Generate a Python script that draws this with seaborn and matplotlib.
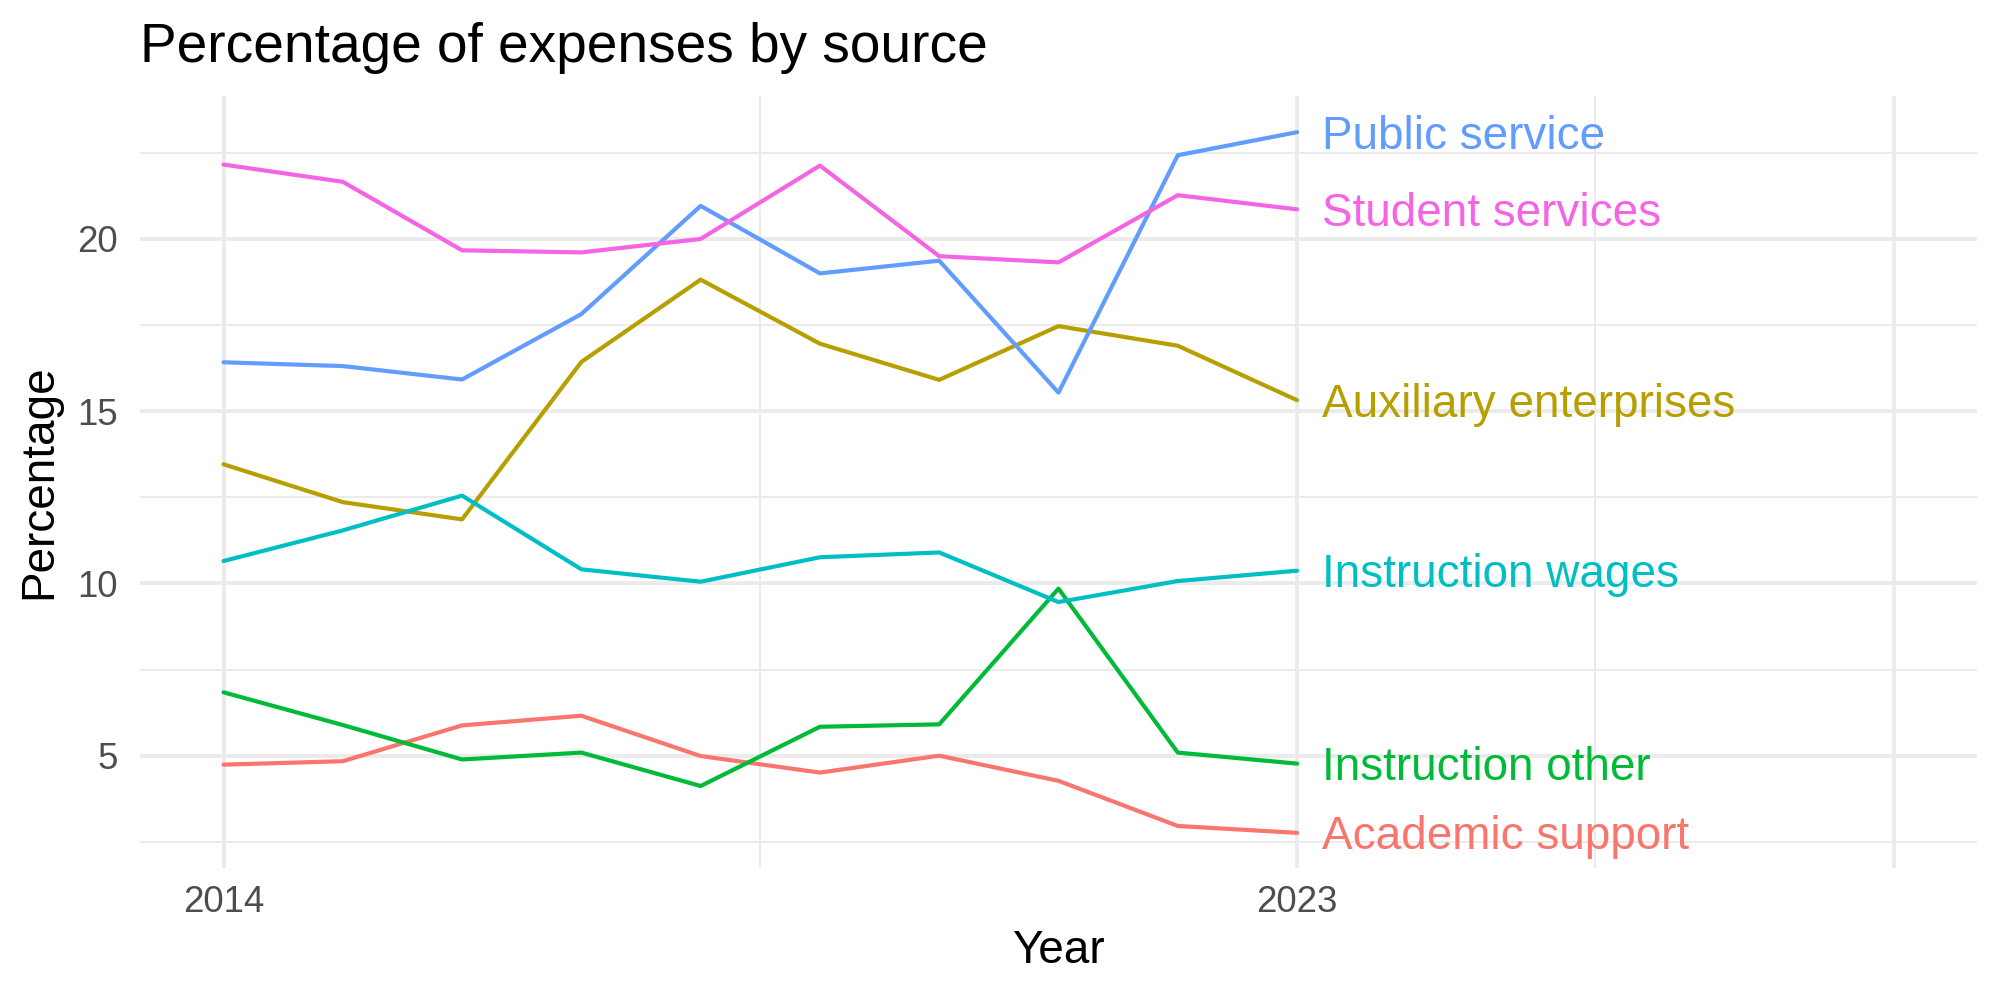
import matplotlib
matplotlib.use("Agg")
import matplotlib.pyplot as plt
import seaborn as sns
import pandas as pd

years = [2014, 2015, 2016, 2017, 2018, 2019, 2020, 2021, 2022, 2023]
academic_support = [4.74, 4.84, 5.88, 6.16, 4.99, 4.51, 5.00, 4.27, 2.96, 2.76]
auxiliary_enterprises = [13.46, 12.36, 11.86, 16.43, 18.82, 16.96, 15.91, 17.47, 16.90, 15.32]
instruction_other = [6.84, 5.89, 4.89, 5.09, 4.12, 5.84, 5.91, 9.85, 5.09, 4.77]
instruction_wages = [10.65, 11.54, 12.55, 10.41, 10.05, 10.76, 10.90, 9.46, 10.07, 10.37]
public_service = [16.42, 16.31, 15.92, 17.82, 20.96, 19.00, 19.37, 15.54, 22.43, 23.10]
student_services = [22.16, 21.66, 19.67, 19.61, 20.00, 22.13, 19.50, 19.32, 21.27, 20.86]

series_names = ["Academic support", "Auxiliary enterprises", "Instruction other",
                "Instruction wages", "Public service", "Student services"]
series_values = [academic_support, auxiliary_enterprises, instruction_other,
                 instruction_wages, public_service, student_services]
colors = ["#F8766D", "#B79F00", "#00BA38", "#00BFC4", "#619CFF", "#F564E3"]

x_ticks = [2014, 2023, 2028]
x_tick_labels = ["2014", "2023", ""]
y_ticks = [5, 10, 15, 20]

rows = []
for name, vals in zip(series_names, series_values):
    for yr, v in zip(years, vals):
        rows.append({"Year": yr, "Percentage": v, "Source": name})
df = pd.DataFrame(rows)

sns.set_theme(style="white")
plt.rcParams["font.family"] = ["Liberation Sans", "DejaVu Sans"]

fig = plt.figure(figsize=(10, 5), dpi=200)
ax = fig.add_axes([140/2000, 1 - 868/1000, (1977 - 140)/2000, (868 - 96)/1000])

palette = dict(zip(series_names, colors))
sns.lineplot(data=df, x="Year", y="Percentage", hue="Source", palette=palette,
             legend=False, linewidth=1.5, ax=ax)

label_size = 16.5
for name, vals, c in zip(series_names, series_values, colors):
    ax.annotate(name, xy=(years[-1], vals[-1]), xytext=(9, -0.716 * label_size / 2),
                textcoords="offset points", color=c, fontsize=label_size,
                ha="left", va="baseline")

ax.set_xlim(2013.3, 2028.7)
ax.set_ylim(1.74, 24.15)
ax.set_xticks(x_ticks)
ax.set_xticklabels(x_tick_labels)
ax.set_xticks([2018.5, 2025.5], minor=True)
ax.set_yticks(y_ticks)
ax.set_yticklabels([str(t) for t in y_ticks])
ax.set_yticks([2.5, 7.5, 12.5, 17.5, 22.5], minor=True)

ax.grid(which="major", color="#EBEBEB", linewidth=1.4)
ax.grid(which="minor", color="#EBEBEB", linewidth=0.7)
ax.set_axisbelow(True)
for s in ax.spines.values():
    s.set_visible(False)
ax.tick_params(axis="both", which="both", length=0, labelsize=13.2, labelcolor="#4D4D4D")
ax.tick_params(axis="x", pad=6)
ax.tick_params(axis="y", pad=8)

ax.set_xlabel("Year", fontsize=16.5, color="black")
ax.set_ylabel("Percentage", fontsize=16.5, color="black")
ax.xaxis.set_label_coords(0.5, -(929 - 868) / 772)
ax.yaxis.set_label_coords((61 - 140) / 1837, 0.5)

fig.text(140/2000, 1 - 61.7/1000, "Percentage of expenses by source",
         fontsize=19.8, color="black", ha="left", va="baseline")

fig.savefig("out.png", dpi=200, facecolor="white")
